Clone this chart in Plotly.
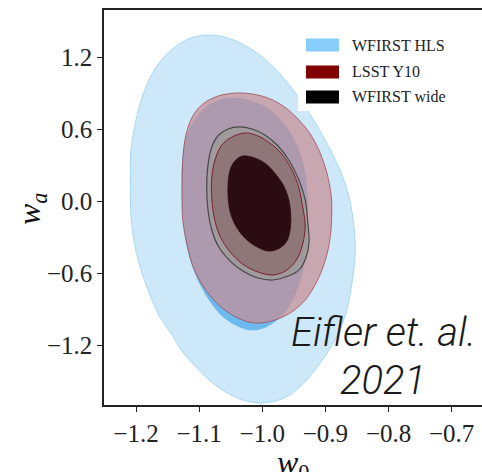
import plotly.graph_objects as go

# ---- contour boundaries in the (w0, wa) plane ----
# WFIRST HLS, outer (95%) region
hls_outer_w0 = [-1.088, -1.054, -1.023, -0.996, -0.972, -0.951, -0.932, -0.915, -0.898, -0.877,
                -0.863, -0.855, -0.853, -0.858, -0.867, -0.883, -0.905, -0.931, -0.962, -0.999,
                -1.031, -1.061, -1.086, -1.108, -1.126, -1.143, -1.162, -1.178, -1.191, -1.202,
                -1.208, -1.209, -1.208, -1.200, -1.189, -1.173, -1.151, -1.121]
hls_outer_wa = [1.389, 1.364, 1.289, 1.189, 1.064, 0.930, 0.789, 0.647, 0.488, 0.263,
                0.046, -0.196, -0.430, -0.680, -0.922, -1.139, -1.323, -1.498, -1.631, -1.682,
                -1.656, -1.581, -1.481, -1.364, -1.256, -1.114, -0.964, -0.780, -0.588, -0.363,
                -0.113, 0.179, 0.430, 0.680, 0.889, 1.081, 1.231, 1.348]

# WFIRST HLS, inner (68%) region
hls_inner_w0 = [-1.035, -1.012, -0.991, -0.972, -0.956, -0.942, -0.932, -0.928, -0.928, -0.932,
                -0.942, -0.956, -0.975, -0.999, -1.019, -1.042, -1.064, -1.083, -1.099, -1.112,
                -1.121, -1.126, -1.128, -1.126, -1.119, -1.105, -1.087, -1.062]
hls_inner_wa = [0.864, 0.830, 0.780, 0.690, 0.580, 0.430, 0.246, 0.013, -0.238, -0.505,
                -0.697, -0.864, -0.985, -1.060, -1.075, -1.035, -0.955, -0.835, -0.690, -0.525,
                -0.338, -0.113, 0.138, 0.388, 0.572, 0.697, 0.797, 0.855]

# LSST Y10, outer (95%) region
lsst_outer_w0 = [-1.043, -1.016, -0.991, -0.967, -0.945, -0.924, -0.909, -0.898, -0.891, -0.890,
                 -0.893, -0.901, -0.914, -0.932, -0.956, -0.985, -1.012, -1.035, -1.057, -1.078,
                 -1.096, -1.110, -1.119, -1.126, -1.127, -1.126, -1.121, -1.110, -1.094, -1.070]
lsst_outer_wa = [0.905, 0.897, 0.864, 0.797, 0.697, 0.563, 0.413, 0.246, 0.054, -0.113,
                 -0.321, -0.505, -0.672, -0.822, -0.931, -0.997, -1.014, -0.981, -0.914, -0.814,
                 -0.688, -0.538, -0.363, -0.154, 0.096, 0.346, 0.555, 0.714, 0.814, 0.880]

# WFIRST wide, outer (95%) region
wide_outer_w0 = [-1.038, -1.016, -0.996, -0.975, -0.956, -0.942, -0.932, -0.928, -0.926, -0.931,
                 -0.942, -0.959, -0.983, -1.007, -1.031, -1.051, -1.069, -1.080, -1.086, -1.088,
                 -1.086, -1.080, -1.069, -1.054]
wide_outer_wa = [0.622, 0.605, 0.555, 0.463, 0.330, 0.179, 0.013, -0.171, -0.346, -0.471,
                 -0.572, -0.622, -0.655, -0.638, -0.580, -0.497, -0.380, -0.238, -0.071, 0.113,
                 0.305, 0.455, 0.555, 0.605]

# LSST Y10, inner (68%) region
lsst_inner_w0 = [-1.027, -1.007, -0.988, -0.969, -0.953, -0.942, -0.936, -0.932, -0.936, -0.945,
                 -0.961, -0.983, -1.007, -1.031, -1.051, -1.067, -1.076, -1.080, -1.080, -1.075,
                 -1.064, -1.048]
lsst_inner_wa = [0.572, 0.547, 0.488, 0.396, 0.263, 0.113, -0.046, -0.204, -0.355, -0.480,
                 -0.572, -0.613, -0.588, -0.522, -0.421, -0.288, -0.138, 0.029, 0.196, 0.346,
                 0.472, 0.538]

# WFIRST wide, inner (68%) region
wide_inner_w0 = [-1.031, -1.012, -0.994, -0.979, -0.966, -0.958, -0.955, -0.956, -0.962, -0.975,
                 -0.991, -1.008, -1.026, -1.040, -1.050, -1.054, -1.054, -1.050, -1.042]
wide_inner_wa = [0.380, 0.363, 0.313, 0.229, 0.129, 0.013, -0.113, -0.238, -0.338, -0.396,
                 -0.413, -0.380, -0.313, -0.221, -0.104, 0.029, 0.163, 0.280, 0.346]

legend_names = ["WFIRST HLS", "LSST Y10", "WFIRST wide"]
legend_colors = ["#87cefa", "#800000", "#000000"]

x_ticks = [-1.2, -1.1, -1.0, -0.9, -0.8, -0.7]
y_ticks = [-1.2, -0.6, 0.0, 0.6, 1.2]

W, H = 482, 472
L, R, T, B = 104, 0, 10, 67
PW, PH = W - L - R, H - T - B

SERIF = "Liberation Serif, Times New Roman, serif"


def px(xp):
    return (xp - L) / PW


def py(yp):
    return (H - B - yp) / PH


def closed(a):
    return list(a) + [a[0]]


fig = go.Figure()

layers = [
    (hls_outer_w0, hls_outer_wa, "#cce8f9", "#a9d7f4", 1.0),
    (hls_inner_w0, hls_inner_wa, "#6cb9ef", "rgba(0,0,0,0)", 0),
    (lsst_outer_w0, lsst_outer_wa, "rgba(200,142,148,0.72)", "rgba(160,70,80,0.75)", 1.0),
    (wide_outer_w0, wide_outer_wa, "#a09a9c", "#474747", 1.2),
    (lsst_inner_w0, lsst_inner_wa, "#8f7779", "#7a1f2c", 1.0),
    (wide_inner_w0, wide_inner_wa, "#2c0c13", "#2c0c13", 0.8),
]
for xs, ys, fc, lc, lw in layers:
    fig.add_trace(go.Scatter(
        x=closed(xs), y=closed(ys), mode="lines", fill="toself",
        fillcolor=fc, line=dict(color=lc, width=lw, shape="spline", smoothing=1.0),
        hoverinfo="skip", showlegend=False,
    ))

fig.update_xaxes(
    range=[-1.2507, -0.652], tickvals=x_ticks, tickformat=".1f",
    showline=True, linecolor="#222222", linewidth=1.5, mirror=True,
    ticks="outside", ticklen=5, tickwidth=1, tickcolor="#222222",
    tickfont=dict(family=SERIF, size=25, color="#222222"),
    showgrid=False, zeroline=False,
)
fig.update_yaxes(
    range=[-1.698, 1.598], tickvals=y_ticks, tickformat=".1f",
    showline=True, linecolor="#222222", linewidth=1.5,
    ticks="outside", ticklen=5, tickwidth=1, tickcolor="#222222",
    tickfont=dict(family=SERIF, size=25, color="#222222"),
    showgrid=False, zeroline=False,
)

shapes = [dict(type="rect", xref="paper", yref="paper",
               x0=px(298), x1=px(478), y0=py(111), y1=py(30),
               fillcolor="white", line=dict(width=0), layer="above")]
annotations = []
row_y = [45, 72, 97]
for name, col, yc in zip(legend_names, legend_colors, row_y):
    shapes.append(dict(type="rect", xref="paper", yref="paper",
                       x0=px(306), x1=px(339), y0=py(yc + 6.5), y1=py(yc - 6.5),
                       fillcolor=col, line=dict(width=0), layer="above"))
    annotations.append(dict(text=name, xref="paper", yref="paper", x=px(350), y=py(yc),
                            xanchor="left", yanchor="middle", showarrow=False,
                            font=dict(family=SERIF, size=16, color="#222222")))

credit_font = dict(family="Roboto", size=40, color="#1a1a1a", weight=300, style="italic")
annotations.append(dict(text="Eifler et. al.", xref="paper", yref="paper", x=px(383), y=py(332),
                        xanchor="center", yanchor="middle", showarrow=False, font=credit_font))
annotations.append(dict(text="2021", xref="paper", yref="paper", x=px(383), y=py(380),
                        xanchor="center", yanchor="middle", showarrow=False, font=credit_font))

title_font = dict(family=SERIF, size=32, color="#111111")
annotations.append(dict(text="<i>w</i><sub><i>a</i></sub>", xref="paper", yref="paper",
                        x=px(31), y=py(209), xanchor="center", yanchor="middle",
                        textangle=-90, showarrow=False, font=title_font))
annotations.append(dict(text="<i>w</i><sub>0</sub>", xref="paper", yref="paper",
                        x=px(293), y=py(442), xanchor="center", yanchor="top",
                        showarrow=False, font=title_font))

fig.update_layout(
    width=W, height=H, margin=dict(l=L, r=R, t=T, b=B, autoexpand=False),
    paper_bgcolor="white", plot_bgcolor="white",
    showlegend=False, shapes=shapes, annotations=annotations,
)

fig.write_html("out.html")
